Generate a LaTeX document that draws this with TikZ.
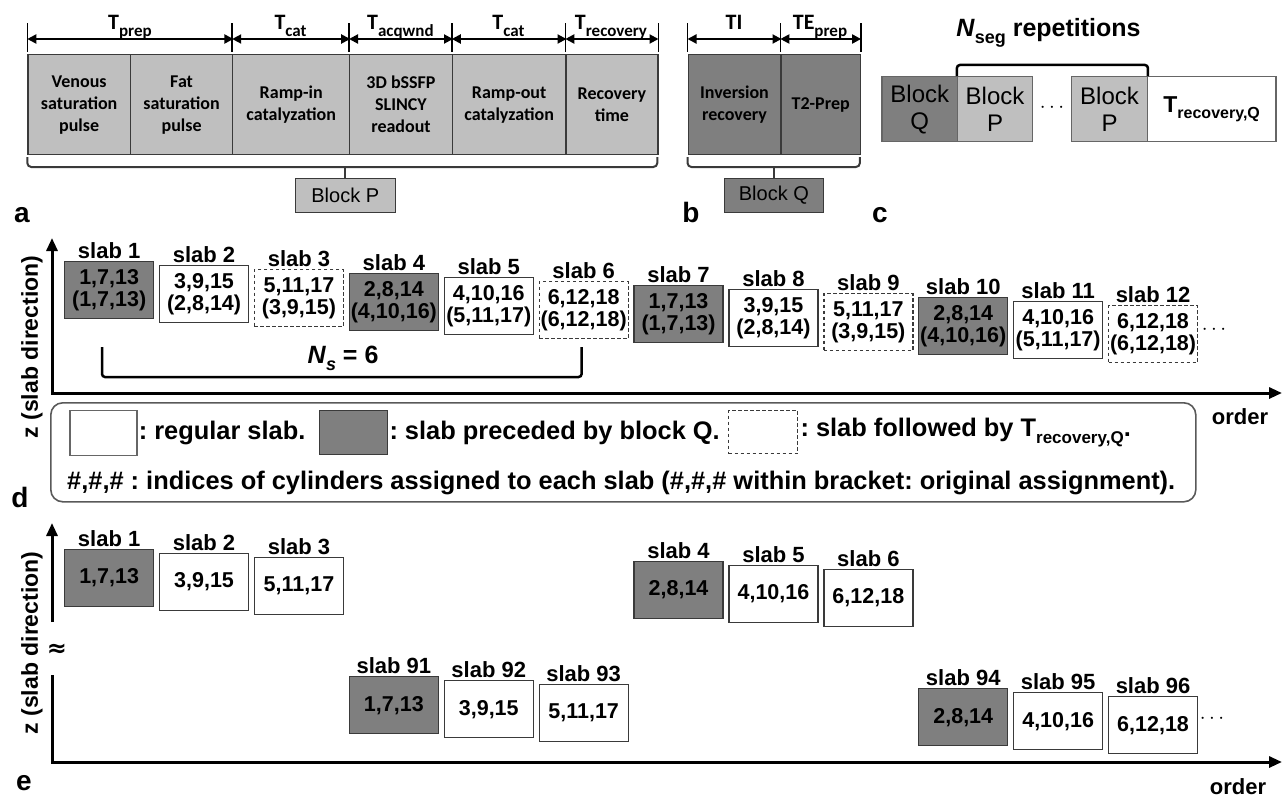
\documentclass[tikz,border=0pt]{standalone}
\usepackage{fontspec}
\setmainfont{Liberation Sans}
\newfontfamily\calfont{Carlito}
\newfontfamily\djvfont{DejaVu Sans}
\usetikzlibrary{arrows.meta}
\definecolor{lg}{HTML}{BFBFBF}
\definecolor{dg}{HTML}{7F7F7F}
\definecolor{bd}{HTML}{3A3A3A}
\newcommand\fs[2]{\fontsize{#1}{#2}\selectfont}
\newcommand\lsub[2]{\raisebox{-0.28em}{\fs{#1}{#1}#2}}
\frenchspacing
\begin{document}
\begin{tikzpicture}[x=1pt,y=-1pt,
  abox/.style={draw=bd, line width=1.2, fill=lg, anchor=north west, minimum height=100, inner sep=0, align=center, font=\calfont\bfseries\fs{18}{22}},
  bbox/.style={abox, fill=dg},
  dimarr/.style={{Triangle[length=9,width=9]}-{Triangle[length=9,width=9]}, line width=2},
  tk/.style={line width=1.5},
  tlab/.style={font=\calfont\bfseries\fs{22}{24}, inner sep=0, anchor=base},
  brk/.style={draw=bd, line width=2, rounded corners=4},
  blk/.style={draw=bd, line width=1.2, anchor=north west, inner sep=0, minimum height=34, font=\fs{20}{22}},
  cbox/.style={draw=black!60, line width=1.2, anchor=north west, inner sep=0, minimum height=65, align=center, font=\fs{24}{27}},
  plab/.style={font=\bfseries\fs{28}{28}, inner sep=0, anchor=base},
  slabbox/.style={draw=bd, line width=1.3, anchor=north west, inner sep=0, minimum width=89, minimum height=57, align=center, font=\bfseries\fs{21.5}{22.5}},
  wh/.style={slabbox, fill=white},
  dk/.style={slabbox, fill=dg},
  dsh/.style={slabbox, fill=white, dash pattern=on 3.5pt off 2.5pt},
  slabl/.style={font=\bfseries\fs{22}{22}, inner sep=0},
  lgt/.style={font=\bfseries\fs{25.4}{26}, inner sep=0, anchor=west},
  axl/.style={font=\bfseries\fs{23}{23}, inner sep=0, rotate=90},
  ordl/.style={font=\bfseries\fs{22}{22}, inner sep=0},
  axarr/.style={line width=3, -{Triangle[length=13,width=11]}}
]
\useasboundingbox (0,0) rectangle (1287,800);

% ---------- panel a ----------
\node[abox, minimum width=102.5] (venous) at (27.3,54) {Venous\\saturation\\pulse};
\node[abox, minimum width=102.4] (fat) at (129.8,54) {Fat\\saturation\\pulse};
\node[abox, minimum width=116.8] (rampin) at (232.2,54) {Ramp-in\\catalyzation};
\node[abox, minimum width=102.8] (bssfp) at (349,54) {3D bSSFP\\SLINCY\\readout};
\node[abox, minimum width=113.5] (rampout) at (451.8,54) {Ramp-out\\catalyzation};
\node[abox, minimum width=92] (recov) at (565.3,54) {Recovery\\time};

\foreach \n in {venous.north west, rampin.north west, bssfp.north west, rampout.north west, recov.north west, recov.north east}
  \draw[tk] ([yshift=2]\n) -- ([yshift=31]\n);
\draw[dimarr] ([yshift=15]venous.north west) -- ([yshift=15]fat.north east);
\draw[dimarr] ([yshift=15]rampin.north west) -- ([yshift=15]rampin.north east);
\draw[dimarr] ([yshift=15]bssfp.north west) -- ([yshift=15]bssfp.north east);
\draw[dimarr] ([yshift=15]rampout.north west) -- ([yshift=15]rampout.north east);
\draw[dimarr] ([yshift=15]recov.north west) -- ([yshift=15]recov.north east);

\node[tlab] (tprep) at (130,30) {T\lsub{17}{prep}};
\node[tlab] (tcat1) at (290.6,30) {T\lsub{17}{cat}};
\node[tlab] (tacq) at (400.4,30) {T\lsub{17}{acqwnd}};
\node[tlab] (tcat2) at (508.5,30) {T\lsub{17}{cat}};
\node[tlab] (trec) at (611,30) {T\lsub{17}{recovery}};

\node[blk, fill=lg, minimum width=100] (blockP) at (294.7,178) {Block P};
\draw[brk] (27.3,157) -- (27.3,167) -- (657.3,167) -- (657.3,157);
\draw[draw=bd, line width=2] (blockP.north |- 0,166) -- (blockP.north);
\node[plab] (la) at (22,222) {a};

% ---------- panel b ----------
\node[bbox, minimum width=92.8] (inv) at (687.5,54) {Inversion\\recovery};
\node[bbox, minimum width=79.6] (t2p) at (780.3,54) {T2-Prep};
\foreach \n in {inv.north west, t2p.north west, t2p.north east}
  \draw[tk] ([yshift=2]\n) -- ([yshift=31]\n);
\draw[dimarr] ([yshift=15]inv.north west) -- ([yshift=15]inv.north east);
\draw[dimarr] ([yshift=15]t2p.north west) -- ([yshift=15]t2p.north east);
\node[tlab] (tti) at (734,30) {TI};
\node[tlab] (tte) at (820,30) {TE\lsub{17}{prep}};
\node[blk, fill=dg, minimum width=99] (blockQ) at (723.8,178) {Block Q};
\draw[brk] (687.5,157) -- (687.5,167) -- (859.9,167) -- (859.9,157);
\draw[draw=bd, line width=2] (blockQ.north |- 0,166) -- (blockQ.north);
\node[plab] (lb) at (691,222) {b};

% ---------- panel c ----------
\node[cbox, fill=dg, minimum width=75.5] (cq) at (881.4,76) {Block\\Q};
\node[cbox, fill=lg, minimum width=75.1] (cp1) at (956.9,76) {Block\\P};
\node[font=\bfseries\fs{22}{22}] (cdots) at (1052,108) {$\cdots$};
\node[cbox, fill=lg, minimum width=75.5] (cp2) at (1071.2,76) {Block\\P};
\node[cbox, fill=white, minimum width=128.7] (crec) at (1146.7,76) {\bfseries\fs{23}{23}T\lsub{16}{recovery,Q}};
\draw[line width=2.5, rounded corners=3] (cp1.north west) -- ++(0,-11) -| (cp2.north east);
\node[font=\bfseries\fs{25}{25}, inner sep=0] (nseg) at (1048.5,33) {\textit{N}\lsub{18}{seg} repetitions};
\node[plab] (lc) at (880,222) {c};

% ---------- panel d ----------
\coordinate (dtop) at (52,238);
\coordinate (dO) at (52,393);
\coordinate (dright) at (1282,393);
\draw[line width=3, {Triangle[length=13,width=11]}-{Triangle[length=13,width=11]}] (dtop) -- (dO) -- (dright);
\node[axl] (dz) at (32,347) {z (slab direction)};

\node[dk]  (ds1)  at (64,261)     {1,7,13\\(1,7,13)};
\node[wh]  (ds2)  at (158.9,265)  {3,9,15\\(2,8,14)};
\node[dsh] (ds3)  at (253.8,269)  {5,11,17\\(3,9,15)};
\node[dk]  (ds4)  at (348.7,273)  {2,8,14\\(4,10,16)};
\node[wh]  (ds5)  at (443.6,277)  {4,10,16\\(5,11,17)};
\node[dsh] (ds6)  at (538.5,281)  {6,12,18\\(6,12,18)};
\node[dk]  (ds7)  at (633.4,285)  {1,7,13\\(1,7,13)};
\node[wh]  (ds8)  at (728.3,289)  {3,9,15\\(2,8,14)};
\node[dsh] (ds9)  at (823.2,293)  {5,11,17\\(3,9,15)};
\node[dk]  (ds10) at (918.1,297)  {2,8,14\\(4,10,16)};
\node[wh]  (ds11) at (1013,301)   {4,10,16\\(5,11,17)};
\node[dsh] (ds12) at (1107.9,305) {6,12,18\\(6,12,18)};
\foreach \i in {1,...,12}
  \node[slabl] (dl\i) at ([yshift=10]ds\i.north) {slab \i};
\node[font=\bfseries\fs{22}{22}] (ddots) at (1214,330) {$\cdots$};

\draw[line width=2.5, rounded corners=3] (102,347) -- (102,377) -- (581.6,377) -- (581.6,347);
\node[font=\bfseries\fs{25}{25}, inner sep=0] (ns) at (343,358) {\textit{N}\lsub{18}{\textit{s}} = 6};

\node[ordl] (dord) at (1240,417) {order};

% legend
\node[draw=black!65, line width=1.6, rounded corners=12, minimum width=1145, minimum height=99, anchor=north west, inner sep=0] (legend) at (50,402) {};
\node[draw=black!60, line width=1.3, fill=white, anchor=north west, minimum width=67, minimum height=45, inner sep=0] (lgw) at (69.3,410) {};
\node[lgt] (lgwt) at ([xshift=1]lgw.east) {: regular slab.};
\node[draw=bd, line width=1.3, fill=dg, anchor=north west, minimum width=68, minimum height=44, inner sep=0] (lgd) at (319,410) {};
\node[lgt] (lgdt) at ([xshift=1]lgd.east) {: slab preceded by block Q.};
\node[draw=bd, line width=1.3, fill=white, dash pattern=on 3.5pt off 2.5pt, anchor=north west, minimum width=69, minimum height=43, inner sep=0] (lgs) at (728,410) {};
\node[lgt] (lgst) at ([xshift=2]lgs.east) {: slab followed by T\lsub{17}{recovery,Q}.};
\node[lgt] (lgrow2) at (67,483) {\#,\#,\# : indices of cylinders assigned to each slab (\#,\#,\# within bracket: original assignment).};
\node[plab] (ld) at (20,507) {d};

% ---------- panel e ----------
\coordinate (etop) at (52,523);
\coordinate (ebrk1) at (52,622);
\coordinate (ebrk2) at (52,675);
\coordinate (eO) at (52,762);
\coordinate (eright) at (1282,762);
\draw[axarr] (ebrk1) -- (etop);
\draw[axarr] (ebrk2) -- (eO) -- (eright);
\node[font=\djvfont\bfseries\fs{24}{24}, inner sep=0] (eapprox) at (57,650) {≈};
\node[axl] (ez) at (32,643) {z (slab direction)};

\node[dk] (es1) at (64,549)     {1,7,13};
\node[wh] (es2) at (158.9,553)  {3,9,15};
\node[wh] (es3) at (253.8,557)  {5,11,17};
\node[dk] (es4) at (633.4,561)  {2,8,14};
\node[wh] (es5) at (728.3,565)  {4,10,16};
\node[wh] (es6) at (823.2,569)  {6,12,18};
\node[dk] (es91) at (348.7,676) {1,7,13};
\node[wh] (es92) at (443.6,680) {3,9,15};
\node[wh] (es93) at (538.5,684) {5,11,17};
\node[dk] (es94) at (918.1,688) {2,8,14};
\node[wh] (es95) at (1013,692)  {4,10,16};
\node[wh] (es96) at (1107.9,696) {6,12,18};
\foreach \i in {1,2,3,4,5,6,91,92,93,94,95,96}
  \node[slabl] (el\i) at ([yshift=10]es\i.north) {slab \i};
\node[font=\bfseries\fs{22}{22}] (edots) at (1212,719) {$\cdots$};
\node[ordl] (eord) at (1238,787) {order};
\node[plab] (le) at (24,790) {e};
\end{tikzpicture}
\end{document}
